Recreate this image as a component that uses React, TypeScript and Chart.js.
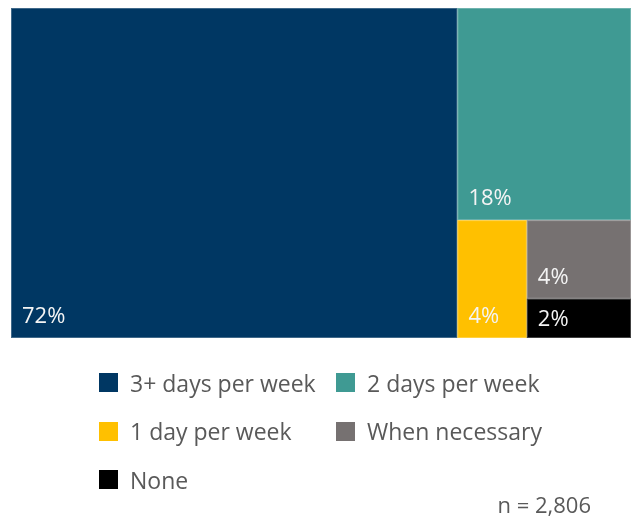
import React, { useEffect, useRef } from "react";
import { Chart, registerables } from "chart.js";

Chart.register(...registerables);

const categories = ["3+ days per week", "2 days per week", "1 day per week", "When necessary", "None"];
const values = [72, 18, 4, 4, 2];
const valueLabels = ["72%", "18%", "4%", "4%", "2%"];
const colors = ["#003763", "#3F9A93", "#FFC000", "#767171", "#000000"];
const legendOrder = [0, 1, 2, 3, 4];
const sampleNote = "n = 2,806";

const FONT = "'Open Sans', 'Noto Sans', 'DejaVu Sans', sans-serif";

type R = { x0: number; x1: number; y0: number; y1: number };

function sliceDice(vals: number[]): R[] {
  // alternating slice-and-dice layout in value space (0..100 on both axes)
  let rect: R = { x0: 0, x1: 100, y0: 0, y1: 100 };
  let remaining = vals.reduce((a, b) => a + b, 0);
  const out: R[] = [];
  vals.forEach((v, i) => {
    const f = remaining > 0 ? v / remaining : 0;
    if (i === vals.length - 1) {
      out.push({ ...rect });
      return;
    }
    if (i % 2 === 0) {
      const xm = rect.x0 + (rect.x1 - rect.x0) * f;
      out.push({ x0: rect.x0, x1: xm, y0: rect.y0, y1: rect.y1 });
      rect = { ...rect, x0: xm };
    } else {
      const ym = rect.y1 - (rect.y1 - rect.y0) * f;
      out.push({ x0: rect.x0, x1: rect.x1, y0: ym, y1: rect.y1 });
      rect = { ...rect, y1: ym };
    }
    remaining -= v;
  });
  return out;
}

const treemapPlugin = {
  id: "treemapRects",
  beforeDatasetsDraw(chart: any) {
    const { ctx, scales } = chart;
    const xs = scales.x;
    const ys = scales.y;
    const rects = sliceDice(values);
    ctx.save();
    rects.forEach((r, i) => {
      const left = xs.getPixelForValue(r.x0);
      const right = xs.getPixelForValue(r.x1);
      const top = ys.getPixelForValue(r.y1);
      const bottom = ys.getPixelForValue(r.y0);
      ctx.fillStyle = colors[i];
      ctx.fillRect(left, top, right - left, bottom - top);
      ctx.strokeStyle = "rgba(255,255,255,0.25)";
      ctx.lineWidth = 1;
      ctx.strokeRect(left + 0.5, top + 0.5, right - left - 1, bottom - top - 1);
      ctx.fillStyle = "#F4F4F4";
      ctx.font = `22px ${FONT}`;
      ctx.textAlign = "left";
      const h = bottom - top;
      let baseline;
      if (h < 50) {
        ctx.textBaseline = "middle";
        baseline = (top + bottom) / 2 + 1;
      } else {
        ctx.textBaseline = "alphabetic";
        baseline = bottom - 15;
      }
      ctx.fillText(valueLabels[i], left + 11, baseline);
    });
    ctx.restore();
  },
};

export default function App() {
  const ref = useRef<HTMLCanvasElement | null>(null);
  useEffect(() => {
    if (!ref.current) return;
    const chart = new Chart(ref.current, {
      type: "scatter",
      data: {
        datasets: categories.map((c, i) => ({
          label: c,
          data: [] as any[],
          backgroundColor: colors[i],
        })),
      },
      options: {
        animation: false,
        responsive: false,
        layout: { padding: { left: 11, top: 8, right: 0, bottom: 179 } },
        scales: {
          x: { type: "linear", min: 0, max: 100, display: false },
          y: { type: "linear", min: 0, max: 100, display: false },
        },
        plugins: { legend: { display: false }, tooltip: { enabled: false } },
      },
      plugins: [treemapPlugin],
    });
    return () => chart.destroy();
  }, []);

  const colLeft = [99, 336];
  const rowTop = [373, 421.5, 470];

  return (
    <div style={{ position: "absolute", left: 0, top: 0, width: 631, height: 517, background: "#fff", overflow: "hidden" }}>
      <canvas ref={ref} width={631} height={517} style={{ position: "absolute", left: 0, top: 0 }} />
      {legendOrder.map((idx, k) => (
        <div
          key={idx}
          style={{
            position: "absolute",
            left: colLeft[k % 2],
            top: rowTop[Math.floor(k / 2)],
            height: 19,
            display: "flex",
            alignItems: "center",
            whiteSpace: "nowrap",
            fontFamily: FONT,
            fontSize: 23,
            color: "#595959",
          }}
        >
          <span style={{ display: "inline-block", width: 19, height: 19, background: colors[idx], marginRight: 12, flexShrink: 0 }} />
          <span>{categories[idx]}</span>
        </div>
      ))}
      <div
        style={{
          position: "absolute",
          right: 40,
          top: 489,
          fontFamily: FONT,
          fontSize: 22,
          color: "#595959",
          whiteSpace: "nowrap",
          lineHeight: "30px",
        }}
      >
        {sampleNote}
      </div>
    </div>
  );
}
